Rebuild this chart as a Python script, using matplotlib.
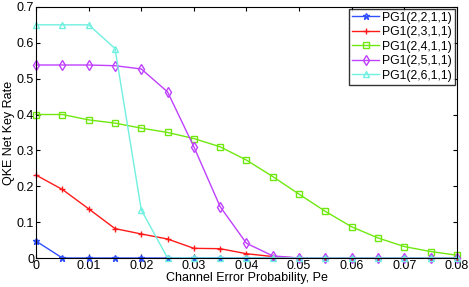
import matplotlib
matplotlib.use("Agg")
import matplotlib.pyplot as plt

plt.rcParams["font.family"] = ["Liberation Sans", "DejaVu Sans"]

pe = [0, 0.005, 0.01, 0.015, 0.02, 0.025, 0.03, 0.035, 0.04,
      0.045, 0.05, 0.055, 0.06, 0.065, 0.07, 0.075, 0.08]

pg_2_2 = [0.047, 0, 0, 0, 0, 0, 0, 0, 0, 0, 0, 0, 0, 0, 0, 0, 0]
pg_2_3 = [0.231, 0.191, 0.137, 0.082, 0.067, 0.053, 0.027, 0.026, 0.012,
          0.004, 0, 0, 0, 0, 0, 0, 0]
pg_2_4 = [0.400, 0.400, 0.385, 0.376, 0.362, 0.350, 0.333, 0.310, 0.273,
          0.227, 0.178, 0.130, 0.087, 0.056, 0.032, 0.018, 0.008]
pg_2_5 = [0.538, 0.538, 0.538, 0.536, 0.527, 0.463, 0.310, 0.143, 0.041,
          0.006, 0, 0, 0, 0, 0, 0, 0]
pg_2_6 = [0.650, 0.650, 0.650, 0.584, 0.134, 0, 0, 0, 0,
          0, 0, 0, 0, 0, 0, 0, 0]

labels = ["PG1(2,2,1,1)", "PG1(2,3,1,1)", "PG1(2,4,1,1)",
          "PG1(2,5,1,1)", "PG1(2,6,1,1)"]
colors = ["#3050ff", "#ff1a1a", "#70e810", "#bf40ff", "#70f0e0"]
markers = ["*", "+", "s", "d", "^"]

fig = plt.figure(figsize=(4.69, 2.87), dpi=100)
ax = fig.add_axes([0.077, 0.101, 0.897, 0.875])

for ys, lab, c, m in zip([pg_2_2, pg_2_3, pg_2_4, pg_2_5, pg_2_6],
                         labels, colors, markers):
    ax.plot(pe, ys, color=c, marker=m, markersize=5, lw=1.0,
            markerfacecolor="none", markeredgecolor=c, label=lab,
            clip_on=False)

ax.set_xlim(0, 0.08)
ax.set_ylim(0, 0.7)
ax.set_xticks([0, 0.01, 0.02, 0.03, 0.04, 0.05, 0.06, 0.07, 0.08])
ax.set_xticklabels(["0", "0.01", "0.02", "0.03", "0.04", "0.05",
                    "0.06", "0.07", "0.08"])
ax.set_yticks([0, 0.1, 0.2, 0.3, 0.4, 0.5, 0.6, 0.7])
ax.set_yticklabels(["0", "0.1", "0.2", "0.3", "0.4", "0.5", "0.6", "0.7"])
ax.tick_params(direction="in", top=True, right=True, labelsize=9, length=3,
               pad=1.5)
ax.set_xlabel("Channel Error Probability, Pe", fontsize=9, labelpad=0)
ax.set_ylabel("QKE Net Key Rate", fontsize=9, labelpad=1)

leg = ax.legend(loc="upper right", fontsize=8.8, frameon=True, fancybox=False,
                edgecolor="black", handlelength=2.2, borderpad=0.25,
                labelspacing=0.2, handletextpad=0.25, borderaxespad=0.15)
leg.get_frame().set_linewidth(1.0)

fig.savefig("out.png", dpi=100)
